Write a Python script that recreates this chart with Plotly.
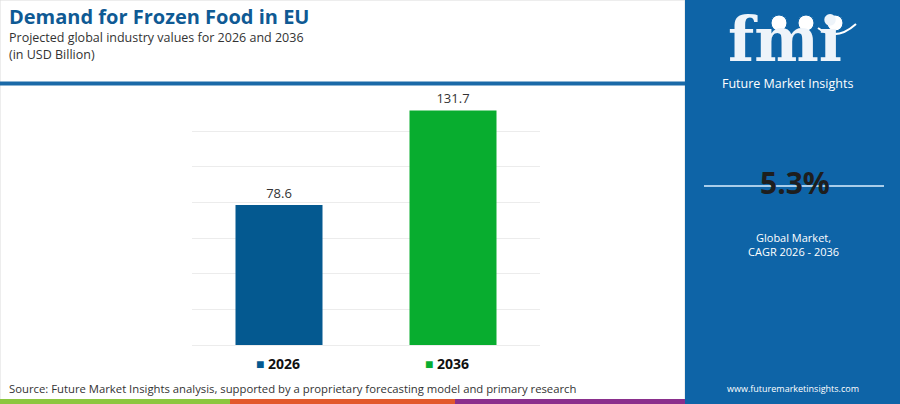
import plotly.graph_objects as go

years = ["2026", "2036"]
values = [78.6, 131.7]
bar_colors = ["#045990", "#08ad2f"]
cagr = "5.3%"

W, H = 900, 404
FONT = "Open Sans"
PANEL = "#0e64a7"


def px(x):
    return x / W


def py(y):
    return 1 - y / H


fig = go.Figure()

fig.add_trace(go.Bar(x=years, y=values,
                     marker=dict(color=bar_colors, line=dict(width=0)),
                     text=[f"{v:.1f}" for v in values],
                     textposition="outside",
                     textfont=dict(family=FONT, size=13, color="#333333"),
                     cliponaxis=False,
                     hoverinfo="skip"))

shapes = []
# card border + right panel
shapes.append(dict(type="rect", xref="paper", yref="paper", x0=0, x1=px(685), y0=0, y1=1,
                   line=dict(color="#dcdcdc", width=1), fillcolor="rgba(0,0,0,0)", layer="below"))
shapes.append(dict(type="rect", xref="paper", yref="paper", x0=px(685), x1=1, y0=0, y1=1,
                   line=dict(width=0), fillcolor=PANEL, layer="below"))
# blue divider under header
shapes.append(dict(type="line", xref="paper", yref="paper", x0=0, x1=px(685), y0=py(83.5), y1=py(83.5),
                   line=dict(color="#1a6aa8", width=4)))
# bottom colour stripe
for x0, x1, c in [(0, 230, "#8cc63f"), (230, 455, "#e2582b"), (455, 685, "#8a2f8c")]:
    shapes.append(dict(type="rect", xref="paper", yref="paper", x0=px(x0), x1=px(x1), y0=0, y1=py(399),
                       line=dict(width=0), fillcolor=c))
# cagr line
shapes.append(dict(type="line", xref="paper", yref="paper", x0=px(704), x1=px(884), y0=py(186), y1=py(186),
                   line=dict(color="#a9cdea", width=2)))
# logo globes
for cx in [779, 806, 835]:
    shapes.append(dict(type="circle", xref="paper", yref="paper", x0=px(cx - 8), x1=px(cx + 8),
                       y0=py(31), y1=py(15), line=dict(color=PANEL, width=1), fillcolor="white"))
shapes.append(dict(type="path", xref="paper", yref="paper",
                   path=f"M {px(818)} {py(28)} Q {px(836)} {py(42)} {px(856)} {py(24)}",
                   line=dict(color="white", width=2)))

annotations = [
    dict(text="<b>Demand for Frozen Food in EU</b>", x=px(7), y=py(16.5), xanchor="left", yanchor="middle",
         font=dict(family=FONT, size=20, color="#0f5a94")),
    dict(text="Projected global industry values for 2026 and 2036", x=px(7), y=py(37.5), xanchor="left",
         yanchor="middle", font=dict(family=FONT, size=12.5, color="#333333")),
    dict(text="(in USD Billion)", x=px(7), y=py(54), xanchor="left", yanchor="middle",
         font=dict(family=FONT, size=12.5, color="#333333")),
    dict(text=f'<span style="color:{bar_colors[0]}">■</span> <b>{years[0]}</b>', x=px(254), y=py(363),
         xanchor="left", yanchor="middle", font=dict(family=FONT, size=14, color="#111111")),
    dict(text=f'<span style="color:{bar_colors[1]}">■</span> <b>{years[1]}</b>', x=px(423), y=py(363),
         xanchor="left", yanchor="middle", font=dict(family=FONT, size=14, color="#111111")),
    dict(text="Source: Future Market Insights analysis, supported by a proprietary forecasting model and primary research",
         x=px(7), y=py(388), xanchor="left", yanchor="middle",
         font=dict(family=FONT, size=11.3, color="#333333")),
    # right panel
    dict(text="<b>fmi</b>", x=px(785), y=py(39.5), xanchor="center", yanchor="middle",
         font=dict(family="DejaVu Serif", size=61, color="#eef4fa")),
    dict(text="Future Market Insights", x=px(787), y=py(84), xanchor="center", yanchor="middle",
         font=dict(family=FONT, size=12.5, color="white")),
    dict(text=f"<b>{cagr}</b>", x=px(795), y=py(183), xanchor="center", yanchor="middle",
         font=dict(family=FONT, size=30, color="#1e1e1e")),
    dict(text="Global Market,<br>CAGR 2026 - 2036", x=px(793), y=py(244), xanchor="center", yanchor="middle",
         font=dict(family=FONT, size=11, color="white")),
    dict(text="www.futuremarketinsights.com", x=px(793), y=py(388), xanchor="center", yanchor="middle",
         font=dict(family=FONT, size=9, color="white")),
]
for a in annotations:
    a.update(xref="paper", yref="paper", showarrow=False)

fig.update_layout(width=W, height=H, autosize=False,
                  margin=dict(l=0, r=0, t=0, b=0),
                  paper_bgcolor="white", plot_bgcolor="white",
                  showlegend=False, bargap=0.5,
                  xaxis=dict(domain=[px(192), px(540)], showticklabels=False, showgrid=False,
                             zeroline=False, showline=False, fixedrange=True),
                  yaxis=dict(domain=[1 - 345 / H, 1 - 95.7 / H], range=[0, 140], dtick=20,
                             showticklabels=False, showgrid=True, gridcolor="#ececec", gridwidth=1,
                             zeroline=True, zerolinecolor="#ececec", zerolinewidth=1,
                             showline=False, fixedrange=True),
                  shapes=shapes, annotations=annotations)

# the page body has a default 8px margin; drop it so the figure fills the window
fig.write_html("out.html", config={"displayModeBar": False},
               post_script="document.body.style.margin='0';document.body.style.overflow='hidden';")
